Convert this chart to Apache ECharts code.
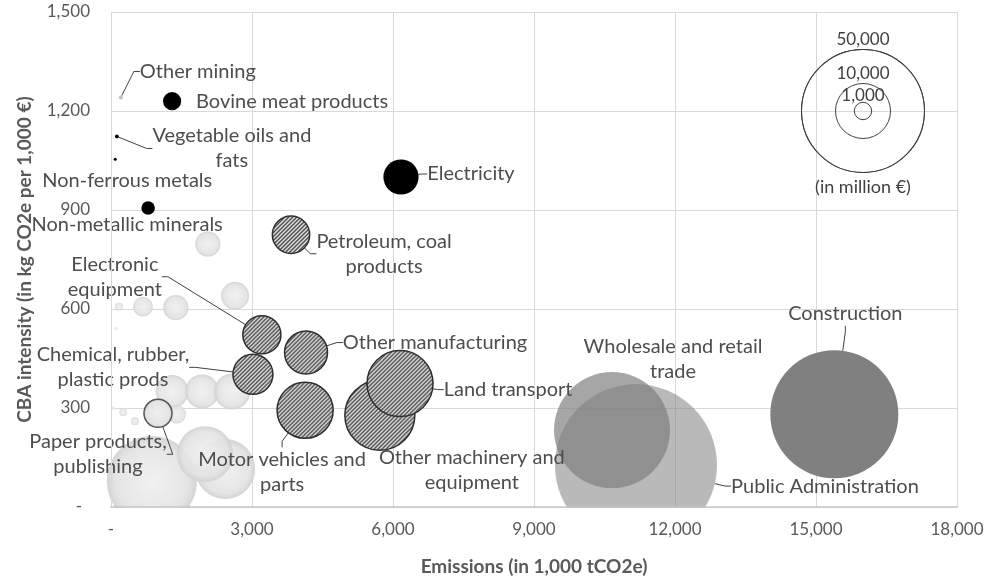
<!DOCTYPE html>
<html>
<head>
<meta charset="utf-8">
<script src="https://cdn.jsdelivr.net/npm/echarts@6/dist/echarts.min.js"></script>
<style>
html, body { margin: 0; padding: 0; background: #fff; }
#bubble-chart { width: 994px; height: 582px; }
</style>
</head>
<body>
<div id="bubble-chart"></div>
<script>
// x = emissions (1,000 tCO2e), y = CBA intensity (kg CO2e per 1,000 €), size = output (million €)

// black bubbles
var blackNames = ['Bovine meat products', 'Electricity', 'Non-metallic minerals', 'Non-ferrous metals', 'Vegetable oils and\nfats'];
var blackEmissions = [1300, 6170, 790, 90, 125];
var blackIntensity = [1230, 1000, 906, 1054, 1123];
var blackOutput = [1100, 4100, 600, 30, 50];

// hatched bubbles
var hatchNames = ['Petroleum, coal\nproducts', 'Electronic\nequipment', 'Other manufacturing', 'Chemical, rubber,\nplastic prods', 'Motor vehicles and\nparts', 'Other machinery and\nequipment', 'Land transport'];
var hatchEmissions = [3830, 3210, 4150, 3020, 4130, 5720, 6150];
var hatchIntensity = [825, 522, 468, 402, 293, 278, 374];
var hatchOutput = [4600, 4800, 6100, 5300, 10400, 16200, 14400];

// grey services
var serviceNames = ['Wholesale and retail\ntrade', 'Public Administration', 'Construction'];
var serviceEmissions = [10660, 11170, 15390];
var serviceIntensity = [233, 127, 281];
var serviceOutput = [44500, 86800, 54200];

// light, mostly unlabelled sectors
var otherEmissions = [870, 2430, 2000, 2060, 2640, 170, 680, 1380, 110, 1300, 1940, 2580, 50, 260, 510, 1400];
var otherIntensity = [79, 115, 160, 797, 640, 607, 607, 604, 540, 350, 350, 350, 300, 287, 260, 281];
var otherOutput = [26800, 11900, 10400, 2100, 2600, 200, 1300, 2100, 30, 3600, 3800, 4300, 30, 200, 200, 1100];

var paperNames = ['Paper products,\npublishing'];
var paperEmissions = [1000];
var paperIntensity = [284];
var paperOutput = [2600];

var miningNames = ['Other mining'];
var miningEmissions = [210];
var miningIntensity = [1241];
var miningOutput = [50];

// size legend
var legendSizes = [50000, 10000, 1000];
var legendAt = [16000, 1200];

// label offsets (px) from bubble centre, and which labels get a leader line
var blackOffsets = [[120, 0], [70, -3], [-21, 17], [12, 21], [115, 12]];
var blackLeaders = [false, true, false, false, true];
var hatchOffsets = [[93, 19], [-147, -58], [129, -10], [-140, -7], [-23, 62], [92, 55], [108, 6]];
var hatchLeaders = [true, true, true, true, true, false, true];
var serviceOffsets = [[61, -71], [189, 21], [11, -101]];
var serviceLeaders = [false, true, true];
var serviceColors = ['rgba(128,128,128,0.7)', 'rgba(128,128,128,0.55)', '#808080'];
var paperOffsets = [[-60, 41]];
var miningOffsets = [[77, -26]];

var FONT = 'Lato';
var TEXT = '#4d4d4d';

function bubbleSize(v) {
    return 0.55 * Math.sqrt(v[2]);
}

function makeItems(names, xs, ys, sizes, leaders) {
    return xs.map(function (x, i) {
        return {
            name: names ? names[i] : '',
            value: [x, ys[i], sizes[i]],
            labelLine: { show: leaders ? leaders[i] : false }
        };
    });
}

function offsetLayout(offsets) {
    return function (p) {
        var o = offsets[p.dataIndex];
        return { dx: o[0], dy: o[1] };
    };
}

// diagonal hatching tile, lines run bottom-left to top-right
function hatch(bg, fg, step, lw) {
    var c = document.createElement('canvas');
    c.width = c.height = step;
    var ctx = c.getContext('2d');
    ctx.fillStyle = bg;
    ctx.fillRect(0, 0, step, step);
    ctx.strokeStyle = fg;
    ctx.lineWidth = lw;
    ctx.beginPath();
    ctx.moveTo(-1, step + 1); ctx.lineTo(step + 1, -1);
    ctx.moveTo(-step / 2 - 1, step / 2 + 1); ctx.lineTo(step / 2 + 1, -step / 2 - 1);
    ctx.moveTo(step / 2 - 1, step * 1.5 + 1); ctx.lineTo(step * 1.5 + 1, step / 2 - 1);
    ctx.stroke();
    return c;
}
var hatchTile = hatch('#ededed', '#383838', 4, 1.3);

// symbols are unit paths scaled by size/2, so undo that on the pattern
function hatchedItems(items) {
    return items.map(function (d) {
        var k = 2 / bubbleSize(d.value);
        d.itemStyle = { color: { image: hatchTile, repeat: 'repeat', scaleX: k, scaleY: k } };
        return d;
    });
}

var bubbleLabel = {
    show: true,
    position: 'inside',
    formatter: '{b}',
    color: TEXT,
    fontSize: 20,
    fontFamily: FONT,
    lineHeight: 25
};
var leader = { show: true, length2: 6, lineStyle: { color: '#404040', width: 1 } };

var lightFill = {
    type: 'radial', x: 0.5, y: 0.5, r: 0.5,
    colorStops: [{ offset: 0, color: '#f0f0f0' }, { offset: 0.8, color: '#e3e3e3' }, { offset: 1, color: '#d0d0d0' }]
};

var chart = echarts.init(document.getElementById('bubble-chart'));

var legendItems = legendSizes.map(function (s, i) {
    return { value: [legendAt[0], legendAt[1], s], label: { position: 'top', distance: i === 2 ? -2 : 1 } };
});
legendItems.push({
    value: [legendAt[0], legendAt[1], legendSizes[0]],
    label: { position: 'bottom', distance: 5, fontSize: 18, formatter: '(in million €)' }
});

var option = {
    animation: false,
    grid: [
        { left: 111, right: 37, top: 12, bottom: 75 },
        { left: 111, right: 37, top: 12, bottom: 75 }
    ],
    xAxis: [
        {
            gridIndex: 0, type: 'value', min: 0, max: 18000, interval: 3000,
            axisLine: { show: false }, axisTick: { show: false }, axisLabel: { show: false },
            splitLine: { lineStyle: { color: '#d9d9d9' } }
        },
        {
            gridIndex: 1, type: 'value', min: 0, max: 18000, interval: 3000, z: 10,
            axisLine: { show: true, lineStyle: { color: '#c8c8c8', width: 1.5 } },
            axisTick: { show: false },
            splitLine: { show: false },
            axisLabel: {
                color: '#595959', fontSize: 17, fontFamily: FONT, margin: 14,
                formatter: function (v) { return v === 0 ? '-' : v.toLocaleString('en-US'); }
            },
            name: 'Emissions (in 1,000 tCO2e)',
            nameLocation: 'middle', nameGap: 50,
            nameTextStyle: { color: '#595959', fontSize: 19, fontWeight: 'bold', fontFamily: FONT }
        }
    ],
    yAxis: [
        {
            gridIndex: 0, type: 'value', min: 0, max: 1500, interval: 300,
            axisLine: { show: false }, axisTick: { show: false }, axisLabel: { show: false },
            splitLine: { lineStyle: { color: '#d9d9d9' } }
        },
        {
            gridIndex: 1, type: 'value', min: 0, max: 1500, interval: 300, z: 10,
            axisLine: { show: true, lineStyle: { color: '#d9d9d9' } },
            axisTick: { show: false },
            splitLine: { show: false },
            axisLabel: {
                color: '#595959', fontSize: 17, fontFamily: FONT, margin: 21,
                formatter: function (v) { return v === 0 ? '{d|-}' : v.toLocaleString('en-US'); },
                rich: { d: { color: '#595959', fontSize: 17, fontFamily: FONT, padding: [0, 8, 0, 0] } }
            },
            name: 'CBA intensity (in kg CO2e per 1,000 €)',
            nameLocation: 'middle', nameGap: 77,
            nameTextStyle: { color: '#595959', fontSize: 19, fontWeight: 'bold', fontFamily: FONT }
        }
    ],
    // hides the part of the bubbles that hangs below the plot area
    graphic: [
        { type: 'rect', z: 5, shape: { x: 0, y: 508, width: 994, height: 74 }, style: { fill: '#fff' } }
    ],
    series: [
        {
            name: 'other', type: 'scatter', z: 2,
            symbolSize: bubbleSize,
            itemStyle: { color: lightFill, opacity: 0.9 },
            data: makeItems(null, otherEmissions, otherIntensity, otherOutput)
        },
        {
            name: 'services', type: 'scatter', z: 2,
            symbolSize: bubbleSize,
            label: bubbleLabel, labelLine: leader,
            labelLayout: offsetLayout(serviceOffsets),
            data: makeItems(serviceNames, serviceEmissions, serviceIntensity, serviceOutput, serviceLeaders).map(function (d, i) {
                d.itemStyle = { color: serviceColors[i], opacity: 1 };
                return d;
            })
        },
        {
            name: 'paper', type: 'scatter', z: 3,
            symbolSize: bubbleSize,
            itemStyle: { color: lightFill, opacity: 1, borderColor: '#555', borderWidth: 1.5 },
            label: bubbleLabel, labelLine: leader,
            labelLayout: offsetLayout(paperOffsets),
            data: makeItems(paperNames, paperEmissions, paperIntensity, paperOutput, [true])
        },
        {
            name: 'hatched', type: 'scatter', z: 4,
            symbolSize: bubbleSize,
            itemStyle: { opacity: 1, borderColor: '#2e2e2e', borderWidth: 1.5 },
            label: bubbleLabel, labelLine: leader,
            labelLayout: offsetLayout(hatchOffsets),
            data: hatchedItems(makeItems(hatchNames, hatchEmissions, hatchIntensity, hatchOutput, hatchLeaders))
        },
        {
            name: 'black', type: 'scatter', z: 4,
            symbolSize: bubbleSize,
            itemStyle: { color: '#000', opacity: 1 },
            label: bubbleLabel, labelLine: leader,
            labelLayout: offsetLayout(blackOffsets),
            data: makeItems(blackNames, blackEmissions, blackIntensity, blackOutput, blackLeaders)
        },
        {
            name: 'mining', type: 'scatter', z: 4,
            symbolSize: bubbleSize,
            itemStyle: { color: '#bdbdbd', opacity: 1 },
            label: bubbleLabel, labelLine: leader,
            labelLayout: offsetLayout(miningOffsets),
            data: makeItems(miningNames, miningEmissions, miningIntensity, miningOutput, [true])
        },
        {
            name: 'size legend', type: 'scatter', z: 4,
            symbolSize: bubbleSize,
            itemStyle: { color: 'rgba(0,0,0,0)', opacity: 1, borderColor: '#404040', borderWidth: 1 },
            label: {
                show: true, color: '#404040', fontSize: 17, fontFamily: FONT,
                formatter: function (p) { return p.value[2].toLocaleString('en-US'); }
            },
            data: legendItems
        }
    ]
};

chart.setOption(option);
window.addEventListener('resize', function () {
    chart.resize();
});
</script>
</body>
</html>
